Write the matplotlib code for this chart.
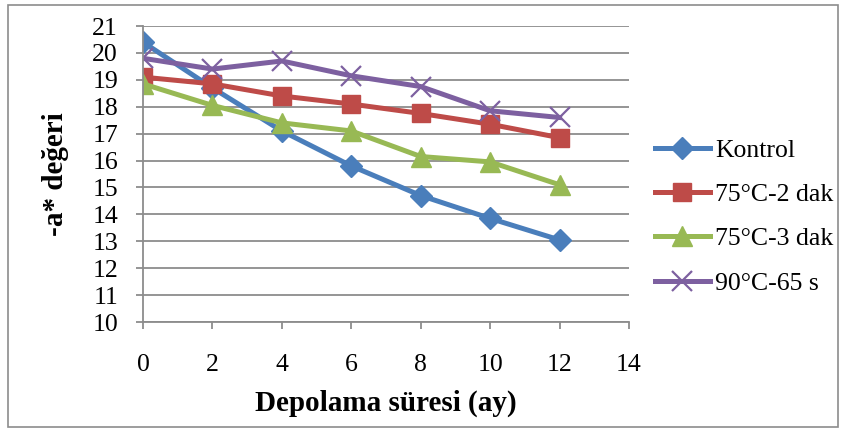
import matplotlib.pyplot as plt
from matplotlib.patches import Rectangle

plt.rcParams['font.family'] = ['Liberation Serif', 'DejaVu Serif']

# depolama süresi (ay)
ay = [0, 2, 4, 6, 8, 10, 12]
kontrol = [20.4, 18.7, 17.1, 15.8, 14.7, 13.85, 13.05]
c75_2dak = [19.1, 18.85, 18.4, 18.1, 17.75, 17.35, 16.85]
c75_3dak = [18.85, 18.05, 17.4, 17.1, 16.15, 15.95, 15.1]
c90_65s = [19.8, 19.4, 19.7, 19.15, 18.75, 17.85, 17.6]

fig = plt.figure(figsize=(8.46, 4.32), dpi=100)
ax = fig.add_axes([0.169, 0.2546, 0.5745, 0.6852])

# dış çerçeve
fig.patches.append(Rectangle((0.009, 0.012), 0.982, 0.976, transform=fig.transFigure,
                             fill=False, edgecolor='#8c8c8c', linewidth=1.2))

ax.plot(ay, kontrol, color='#4A7EBB', lw=3.6, marker='D', ms=11, label='Kontrol')
ax.plot(ay, c75_2dak, color='#BE4B48', lw=3.6, marker='s', ms=13, label='75°C-2 dak')
ax.plot(ay, c75_3dak, color='#98B954', lw=3.6, marker='^', ms=14, label='75°C-3 dak')
ax.plot(ay, c90_65s, color='#7D60A0', lw=3.6, marker='x', ms=14, mew=1.6, label='90°C-65 s')

ax.set_xlim(0, 14)
ax.set_ylim(10, 21)
ax.set_xticks(range(0, 15, 2))
ax.set_yticks(range(10, 22))
ax.yaxis.grid(True, color='#8c8c8c', lw=1.3)
ax.set_axisbelow(True)

for s in ['top', 'right']:
    ax.spines[s].set_visible(False)
for s in ['left', 'bottom']:
    ax.spines[s].set_color('#8c8c8c')
    ax.spines[s].set_linewidth(1.3)
ax.tick_params(axis='both', colors='#8c8c8c', labelcolor='black', labelsize=18.5, length=5, width=1.3)
ax.tick_params(axis='x', pad=18)
ax.tick_params(axis='y', pad=13)

ax.set_xlabel('Depolama süresi (ay)', fontsize=21, fontweight='bold', labelpad=10)
ax.set_ylabel('-a* değeri', fontsize=21, fontweight='bold', labelpad=17)

ax.legend(loc='center left', bbox_to_anchor=(1.0, 0.355), frameon=False, fontsize=18.5,
          handlelength=2.15, handletextpad=0.2, labelspacing=0.82, borderaxespad=0.6)

fig.savefig('out.png', dpi=100)
